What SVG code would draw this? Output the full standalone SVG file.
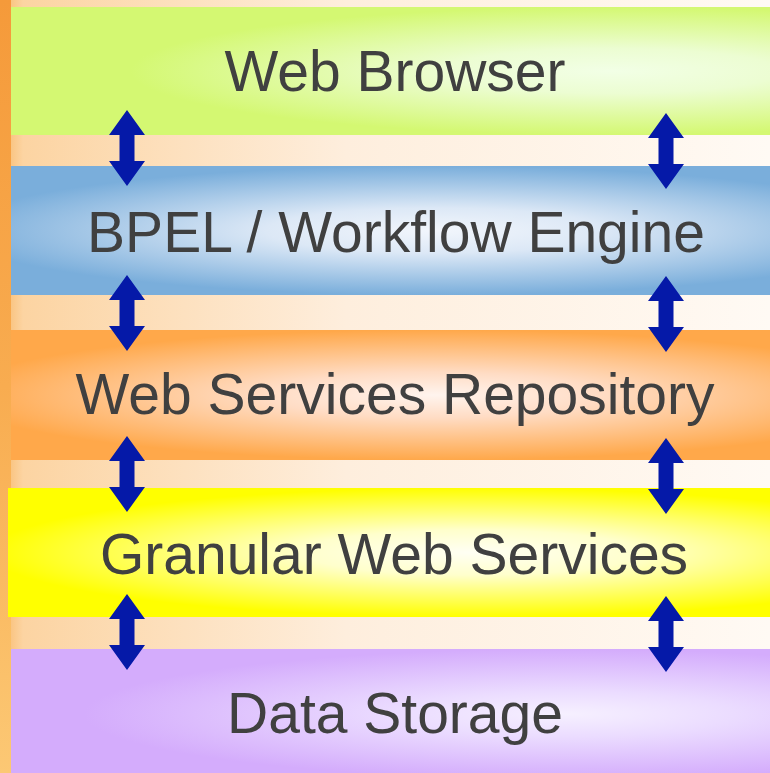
<svg xmlns="http://www.w3.org/2000/svg" width="770" height="773" viewBox="0 0 770 773">
  <style>
    .label { font-family: "Liberation Sans", Arial, sans-serif; font-size: 57px; fill: #404040; text-anchor: middle; }
    .arrow { fill: #0519a8; }
  </style>
  <defs>
    <!-- page background: warm orange on the left fading to cream -->
    <linearGradient id="bg" x1="0" y1="0" x2="1" y2="0">
      <stop offset="0" stop-color="#f8b868"/>
      <stop offset="0.03" stop-color="#fcd4a2"/>
      <stop offset="0.45" stop-color="#feeedd"/>
      <stop offset="1" stop-color="#fffaf4"/>
    </linearGradient>
    <linearGradient id="strip" x1="0" y1="0" x2="0" y2="1">
      <stop offset="0" stop-color="#f59a3a"/>
      <stop offset="0.5" stop-color="#f8ac50"/>
      <stop offset="1" stop-color="#fcc874"/>
    </linearGradient>

    <!-- layer fills: bright highlight inside a saturated band -->
    <radialGradient id="gBrowser" cx="0.78" cy="0.5" r="0.5" gradientTransform="translate(0.78 0.5) scale(1.25 1) translate(-0.78 -0.5)">
      <stop offset="0" stop-color="#f2ffe6"/>
      <stop offset="0.35" stop-color="#ecfdd2"/>
      <stop offset="1" stop-color="#d4f872"/>
    </radialGradient>
    <radialGradient id="gBpel" cx="0.55" cy="0.5" r="0.5" gradientTransform="translate(0.55 0.5) scale(1.25 1) translate(-0.55 -0.5)">
      <stop offset="0" stop-color="#f2f6fc"/>
      <stop offset="0.35" stop-color="#dce8f6"/>
      <stop offset="1" stop-color="#7aaedb"/>
    </radialGradient>
    <radialGradient id="gRepo" cx="0.55" cy="0.5" r="0.5" gradientTransform="translate(0.55 0.5) scale(1.25 1) translate(-0.55 -0.5)">
      <stop offset="0" stop-color="#fff4ee"/>
      <stop offset="0.35" stop-color="#ffdcc4"/>
      <stop offset="1" stop-color="#ffa84a"/>
    </radialGradient>
    <radialGradient id="gGranular" cx="0.6" cy="0.5" r="0.5" gradientTransform="translate(0.6 0.5) scale(1.25 1) translate(-0.6 -0.5)">
      <stop offset="0" stop-color="#fffff4"/>
      <stop offset="0.35" stop-color="#ffffcc"/>
      <stop offset="1" stop-color="#ffff00"/>
    </radialGradient>
    <radialGradient id="gStorage" cx="0.72" cy="0.5" r="0.5" gradientTransform="translate(0.72 0.5) scale(1.25 1) translate(-0.72 -0.5)">
      <stop offset="0" stop-color="#f6f0ff"/>
      <stop offset="0.35" stop-color="#ebdcff"/>
      <stop offset="1" stop-color="#d4acfc"/>
    </radialGradient>

    <!-- double-headed vertical arrow, top tip at (0,0) -->
    <path id="dblArrow" d="M0 0 L18 25 L7.5 25 L7.5 51 L18 51 L0 76 L-18 51 L-7.5 51 L-7.5 25 L-18 25 Z"/>
  </defs>

  <!-- background -->
  <rect x="0" y="0" width="770" height="773" fill="url(#bg)"/>
  <rect x="0" y="0" width="11" height="773" fill="url(#strip)"/>

  <!-- layers -->
  <g id="web-browser">
    <rect x="11" y="7" width="770" height="128" fill="url(#gBrowser)"/>
    <text class="label" x="395" y="91">Web Browser</text>
  </g>
  <g id="bpel-engine">
    <rect x="11" y="166" width="770" height="129" fill="url(#gBpel)"/>
    <text class="label" x="396" y="252">BPEL / Workflow Engine</text>
  </g>
  <g id="ws-repository">
    <rect x="11" y="330" width="770" height="130" fill="url(#gRepo)"/>
    <text class="label" x="395" y="414">Web Services Repository</text>
  </g>
  <g id="granular-ws">
    <rect x="8" y="488" width="773" height="129" fill="url(#gGranular)"/>
    <text class="label" x="394" y="574">Granular Web Services</text>
  </g>
  <g id="data-storage">
    <rect x="11" y="649" width="770" height="130" fill="url(#gStorage)"/>
    <text class="label" x="395" y="733">Data Storage</text>
  </g>

  <!-- connectors between adjacent layers -->
  <g id="connectors" class="arrow">
    <use href="#dblArrow" x="127" y="110"/>
    <use href="#dblArrow" x="666" y="113"/>
    <use href="#dblArrow" x="127" y="275"/>
    <use href="#dblArrow" x="666" y="276"/>
    <use href="#dblArrow" x="127" y="436"/>
    <use href="#dblArrow" x="666" y="438"/>
    <use href="#dblArrow" x="127" y="594"/>
    <use href="#dblArrow" x="666" y="596"/>
  </g>
</svg>
